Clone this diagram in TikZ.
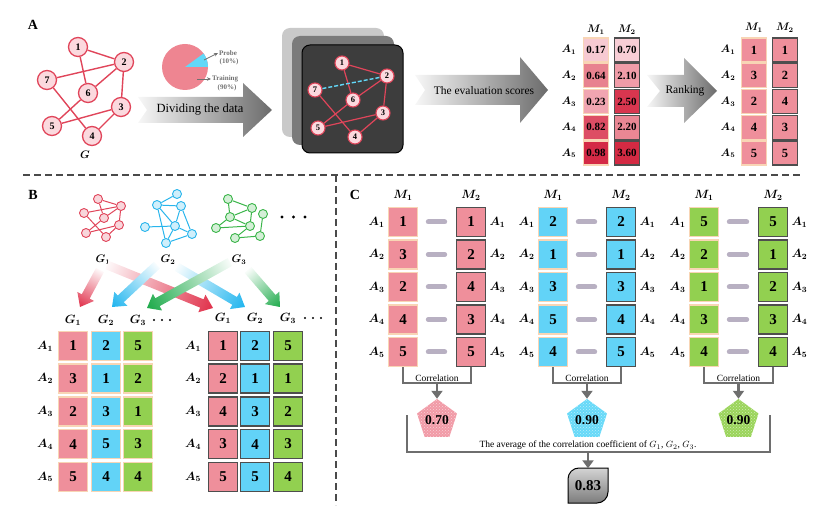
\documentclass[tikz,border=0pt]{standalone}
\usepackage{fontspec}
\setmainfont{Liberation Serif}
\usepackage{bm}
\usetikzlibrary{shapes.geometric,arrows.meta,patterns,positioning}

\definecolor{edgered}{HTML}{E0455A}
\definecolor{nodepink}{HTML}{FBD9DE}
\definecolor{cellpink}{HTML}{EF8F9B}
\definecolor{cellblue}{HTML}{62D3F7}
\definecolor{cellgreen}{HTML}{92D050}
\definecolor{peach}{HTML}{F8D5B5}
\definecolor{darkrim}{HTML}{4E4E4E}
\definecolor{pillgray}{HTML}{B8B0C2}
\definecolor{brackgray}{HTML}{6E6E6E}
\definecolor{dashgray}{HTML}{4A4A4A}
\definecolor{piepink}{HTML}{EE8591}
\definecolor{piecyan}{HTML}{62D8F8}
\definecolor{pietextgray}{HTML}{707070}
\definecolor{gblue}{HTML}{29B5EC}
\definecolor{ggreen}{HTML}{3BB54A}
\definecolor{fadered}{HTML}{E0304A}
\definecolor{fadeblue}{HTML}{1EB4EE}
\definecolor{fadegreen}{HTML}{1DAA4A}
\definecolor{backgray}{HTML}{C9C9C9}
\definecolor{midgray}{HTML}{7B7B7B}
\definecolor{frontgray}{HTML}{3D3D3D}
\definecolor{pentpink}{HTML}{F19AA6}
\definecolor{pentblue}{HTML}{66D9F8}
\definecolor{pentgreen}{HTML}{9AD45A}
\definecolor{avgtop}{HTML}{D4D4D4}
\definecolor{avgbot}{HTML}{7C7C7C}
% score colours of the first table
\definecolor{sc1}{HTML}{F7CAD2}
\definecolor{sc2}{HTML}{E8828F}
\definecolor{sc3}{HTML}{F1A5B1}
\definecolor{sc4}{HTML}{DD4D64}
\definecolor{sc5}{HTML}{D42A46}
\definecolor{sd1}{HTML}{F8CED6}
\definecolor{sd2}{HTML}{F09CA8}
\definecolor{sd3}{HTML}{D8364F}
\definecolor{sd4}{HTML}{EA8794}
\definecolor{sd5}{HTML}{D42A43}

% shaded arrow from one coordinate to another
\newcommand\fadearrow[3]{%
  \pgfpointdiff{\pgfpointanchor{#1}{center}}{\pgfpointanchor{#2}{center}}%
  \pgfgetlastxy{\fadx}{\fady}%
  \pgfmathsetmacro\fadang{atan2(\fady,\fadx)}%
  \pgfmathsetmacro\fadlen{veclen(\fadx,\fady)}%
  \pgfmathsetmacro\fadneck{\fadlen-12}%
  \begin{scope}[transform canvas={shift={(#1)},rotate=\fadang}]
    \shade[left color=#3!3,right color=#3]
      (0pt,4.5pt) -- (\fadneck pt,4.5pt) -- (\fadneck pt,9.5pt) -- (\fadlen pt,0pt)
      -- (\fadneck pt,-9.5pt) -- (\fadneck pt,-4.5pt) -- (0pt,-4.5pt) -- cycle;
  \end{scope}}

% one pair of rank columns with its correlation
\newcommand\corrpair[7]{%
  \foreach \r/\va/\vb [evaluate=\r as \yy using {222+32.5*(\r-1)}] in {#7} {
    \node[bcell,lite,fill=#4] (#1a-\r) at (#2,\yy) {\va};
    \node[bcell,dark,fill=#4] (#1b-\r) at (#3,\yy) {\vb};
    \node[mlab,left=3pt of #1a-\r] (#1la-\r) {$\bm{A_{\r}}$};
    \node[mlab,right=3pt of #1b-\r] (#1lb-\r) {$\bm{A_{\r}}$};
    \draw[pill] ([xshift=10pt]#1a-\r.east) -- ([xshift=-11pt]#1b-\r.west);
  }
  \node[mlab] (#1ma) at (#2,195) {$\bm{M_1}$};
  \node[mlab] (#1mb) at (#3,195) {$\bm{M_2}$};
  \draw[bracket] (#1a-5.south) -- ++(0,16) coordinate (#1low) -| (#1b-5.south);
  \node[pent=#5] (#1pent) at ({(#2+#3)/2},420) {#6};
  \draw[bracketarrow] (#1pent.north |- #1low) -- (#1pent.north);
  \node[smalltext,above=2pt] (#1corr) at (#1pent.north |- #1low) {Correlation};
}

\begin{document}
\begin{tikzpicture}[x=1pt,y=-1pt,
  panlab/.style={font=\bfseries\fontsize{14}{14}\selectfont,inner sep=0pt},
  gnode/.style={circle,draw=edgered,fill=nodepink,line width=1.3pt,minimum size=19pt,inner sep=0pt,font=\bfseries\fontsize{10}{10}\selectfont},
  dnode/.style={gnode,minimum size=14pt,line width=1.1pt,font=\bfseries\fontsize{8.5}{8.5}\selectfont},
  gedge/.style={draw=edgered,line width=1.4pt},
  snode/.style={circle,draw=#1,fill=#1!22,line width=0.9pt,minimum size=9pt,inner sep=0pt},
  sedge/.style={draw=#1,line width=1pt},
  mlab/.style={inner sep=0pt,font=\fontsize{11.5}{11.5}\selectfont},
  alab/.style={inner sep=0pt,font=\fontsize{10.5}{10.5}\selectfont},
  scell/.style={minimum width=25pt,minimum height=24pt,inner sep=0pt,line width=1.4pt,font=\bfseries\fontsize{11}{11}\selectfont},
  rcell/.style={scell,fill=cellpink,font=\bfseries\fontsize{12.5}{12.5}\selectfont},
  bcell/.style={minimum size=29pt,inner sep=0pt,line width=1.6pt,font=\bfseries\fontsize{15}{15}\selectfont},
  lite/.style={draw=peach},
  dark/.style={draw=darkrim},
  arrowtext/.style={inner sep=0pt,font=\fontsize{11.5}{11.5}\selectfont},
  pietext/.style={inner sep=1pt,text=pietextgray,font=\bfseries\fontsize{7}{7}\selectfont},
  smallarrow/.style={draw=pietextgray,line width=0.8pt,-{Stealth[length=4pt,width=3.5pt]}},
  splitline/.style={draw=dashgray,line width=2.2pt,dash pattern=on 7pt off 4pt},
  pill/.style={draw=pillgray,line width=5pt,line cap=round},
  bracket/.style={draw=brackgray,line width=2.2pt},
  bracketarrow/.style={bracket,-{Triangle[length=8pt,width=11pt]}},
  pent/.style={regular polygon,regular polygon sides=5,minimum size=42pt,inner sep=0pt,preaction={fill=#1},pattern=crosshatch dots,pattern color=white!55!#1,font=\bfseries\fontsize{13.5}{13.5}\selectfont},
  smalltext/.style={inner sep=0pt,font=\fontsize{9.5}{9.5}\selectfont}]
\useasboundingbox (0,0) rectangle (831,513);

% ---------------- A ----------------
\node[panlab] (labA) at (33,25) {A};
\foreach \n/\px/\py in {1/78/47,2/124/62,3/121/107,4/92/136,5/52/126,6/88/93,7/47/80}
  \node[gnode] (g\n) at (\px,\py) {\n};
\foreach \a/\b in {1/2,1/6,7/2,6/2,2/3,7/4,6/5,5/3,3/4}
  \draw[gedge] (g\a) -- (g\b);
\node[alab] (gname) at (85,155) {$\bm{G}$};

% pie
\node[circle,fill=piepink,minimum size=46pt,inner sep=0pt] (pie) at (185,67) {};
\fill[piecyan] (pie.center) -- ++(23pt,0pt) arc[start angle=0,end angle=36,radius=23pt] -- cycle;
\node[pietext,anchor=west] (probe) at (218,53) {Probe};
\node[pietext] (probepc) at (229,62) {(10\%)};
\node[pietext,anchor=west] (train) at (211,79) {Training};
\node[pietext] (trainpc) at (227,88) {(90\%)};
\coordinate (pr0) at (204,60);
\coordinate (tr0) at (197,79);
\draw[smallarrow] (pr0) -- (probe.west);
\draw[smallarrow] (tr0) -- (train.west);

% big arrows
\shade[left color=black!3,right color=black!58] (138,97) -- (243,97) -- (243,83) -- (272,110)
  -- (243,137) -- (243,123) -- (138,123) -- (147,110) -- cycle;
\node[arrowtext,font=\fontsize{12.5}{12.5}\selectfont] (divide) at (200,110) {Dividing the data};
\shade[left color=black!3,right color=black!58] (415,75) -- (520,75) -- (520,57) -- (548,90)
  -- (520,123) -- (520,105) -- (415,105) -- (425,90) -- cycle;
\node[arrowtext] (evaluate) at (484,91) {The evaluation scores};
\shade[left color=black!3,right color=black!58] (647,75) -- (684,75) -- (684,58) -- (717,91)
  -- (684,123) -- (684,107) -- (647,107) -- (660,91) -- cycle;
\node[arrowtext] (ranking) at (685,91) {Ranking};

% stacked probe graphs
\fill[backgray,rounded corners=8pt] (282,28) rectangle (384,137);
\fill[midgray,rounded corners=8pt] (292,36) rectangle (394,145);
\draw[fill=frontgray,line width=1pt,rounded corners=8pt] (302,45) rectangle (403,153);
\foreach \n/\px/\py in {1/342/63,2/387/76,3/383/113,4/355/137,5/318/128,6/353/100,7/315/90}
  \node[dnode] (d\n) at (\px,\py) {\n};
\foreach \a/\b in {1/2,1/6,6/2,2/3,7/4,6/5,5/3,3/4}
  \draw[gedge,line width=1.2pt] (d\a) -- (d\b);
\draw[draw=piecyan,line width=1.4pt,dash pattern=on 4pt off 2pt] (d7) -- (d2);

% score table
\foreach \r/\va/\vb [evaluate=\r as \yy using {50+25.8*(\r-1)}] in
  {1/0.17/0.70,2/0.64/2.10,3/0.23/2.50,4/0.82/2.20,5/0.98/3.60} {
  \node[scell,lite,fill=sc\r] (s1-\r) at (596,\yy) {\va};
  \node[scell,dark,fill=sd\r] (s2-\r) at (627,\yy) {\vb};
  \node[alab] (sa-\r) at (569,\yy) {$\bm{A_{\r}}$};
}
\node[alab] (sm1) at (596,30) {$\bm{M_1}$};
\node[alab] (sm2) at (627,30) {$\bm{M_2}$};

% rank table
\foreach \r/\va/\vb [evaluate=\r as \yy using {50+25.8*(\r-1)}] in
  {1/1/1,2/3/2,3/2/4,4/4/3,5/5/5} {
  \node[rcell,lite] (k1-\r) at (754,\yy) {\va};
  \node[rcell,dark] (k2-\r) at (785,\yy) {\vb};
  \node[alab] (ka-\r) at (728,\yy) {$\bm{A_{\r}}$};
}
\node[alab] (km1) at (754,28) {$\bm{M_1}$};
\node[alab] (km2) at (785,28) {$\bm{M_2}$};

% dividing lines
\draw[splitline] (23,175) -- (802,175);
\draw[splitline] (336,175) -- (336,505);

% ---------------- B ----------------
\node[panlab] (labB) at (33,195) {B};
\foreach \n/\px/\py in {1/98/199,2/121/206,3/119/225,4/106/237,5/86/233,6/104/218,7/84/213}
  \node[snode=edgered] (r\n) at (\px,\py) {};
\foreach \a/\b in {1/2,1/6,7/2,6/2,2/3,7/4,6/5,5/3,3/4}
  \draw[sedge=edgered] (r\a) -- (r\b);
\foreach \n/\px/\py in {1/177/194,2/157/205,3/181/206,4/175/226,5/145/227,6/192/234,7/166/243}
  \node[snode=gblue] (b\n) at (\px,\py) {};
\foreach \a/\b in {1/2,2/3,2/4,2/7,3/4,3/6,5/4,4/6,4/7,6/7}
  \draw[sedge=gblue] (b\a) -- (b\b);
\foreach \n/\px/\py in {1/228/199,2/252/208,3/230/217,4/250/226,5/216/228,6/263/214,7/260/236,8/235/238}
  \node[snode=ggreen] (n\n) at (\px,\py) {};
\foreach \a/\b in {1/2,1/3,2/3,3/4,2/4,3/5,5/4,4/8,8/7,7/6}
  \draw[sedge=ggreen] (n\a) -- (n\b);
\foreach \k in {0,1,2}
  \fill (282+11.5*\k,217) circle (1.6pt);
\node[alab] (gl1) at (103,260) {$\bm{G_1}$};
\node[alab] (gl2) at (168,260) {$\bm{G_2}$};
\node[alab] (gl3) at (239,260) {$\bm{G_3}$};

% spreading arrows
\foreach \k/\sx/\sy/\ex/\ey/\c in {1/100/270/80/307/fadered,2/107/265/213/308/fadered,
  3/157/265/112/307/fadeblue,4/177/267/245/307/fadeblue,
  5/230/262/147/308/fadegreen,6/248/270/280/307/fadegreen} {
  \coordinate (fs\k) at (\sx,\sy);
  \coordinate (fe\k) at (\ex,\ey);
  \fadearrow{fs\k}{fe\k}{\c}
}

% rank tables of B
\foreach \r/\u/\v/\w [evaluate=\r as \yy using {346+32.7*(\r-1)}] in
  {1/1/2/5,2/3/1/2,3/2/3/1,4/4/5/3,5/5/4/4} {
  \node[bcell,lite,fill=cellpink] (p1-\r) at (73,\yy) {\u};
  \node[bcell,lite,fill=cellblue] (p2-\r) at (106,\yy) {\v};
  \node[bcell,lite,fill=cellgreen] (p3-\r) at (138,\yy) {\w};
  \node[mlab] (pa-\r) at (45,\yy) {$\bm{A_{\r}}$};
}
\foreach \r/\u/\v/\w [evaluate=\r as \yy using {346+32.7*(\r-1)}] in
  {1/1/2/5,2/2/1/1,3/4/3/2,4/3/4/3,5/5/5/4} {
  \node[bcell,dark,fill=cellpink] (q1-\r) at (223,\yy) {\u};
  \node[bcell,dark,fill=cellblue] (q2-\r) at (255,\yy) {\v};
  \node[bcell,dark,fill=cellgreen] (q3-\r) at (288,\yy) {\w};
  \node[mlab] (qa-\r) at (193,\yy) {$\bm{A_{\r}}$};
}
\foreach \c/\px in {1/73,2/106,3/138}
  \node[mlab] (ph\c) at (\px,320) {$\bm{G_{\c}}$};
\foreach \c/\px in {1/223,2/255,3/288}
  \node[mlab] (qh\c) at (\px,318) {$\bm{G_{\c}}$};
\foreach \k in {0,1,2} {
  \fill (154+8*\k,320) circle (1.2pt);
  \fill (305+8*\k,318) circle (1.2pt);
}

% ---------------- C ----------------
\node[panlab] (labC) at (355,195) {C};
\corrpair{r}{403}{471}{cellpink}{pentpink}{0.70}{1/1/1,2/3/2,3/2/4,4/4/3,5/5/5}
\corrpair{b}{553}{621}{cellblue}{pentblue}{0.90}{1/2/2,2/1/1,3/3/3,4/5/4,5/4/5}
\corrpair{n}{704}{773}{cellgreen}{pentgreen}{0.90}{1/5/5,2/2/1,3/1/2,4/3/3,5/4/4}

% average
\coordinate (avgl) at (407,415);
\coordinate (avgr) at (770,415);
\draw[bracket] (avgl) -- ++(0,37) coordinate (avglow) -| (avgr);
\draw[line width=1pt,top color=avgtop,bottom color=avgbot] (568,503) -- (568,479)
  arc[start angle=180,end angle=90,radius=11pt] -- (608,468) -- (608,492)
  arc[start angle=0,end angle=-90,radius=11pt] -- cycle;
\node[minimum width=40pt,minimum height=35pt,inner sep=0pt,font=\bfseries\fontsize{15}{15}\selectfont] (avg) at (588,486) {0.83};
\draw[bracketarrow] (avg.north |- avglow) -- (avg.north);
\node[smalltext,above=2pt] (avgtext) at (avg.north |- avglow) {The average of the correlation coefficient of $G_1$, $G_2$, $G_3$.};
\end{tikzpicture}
\end{document}
